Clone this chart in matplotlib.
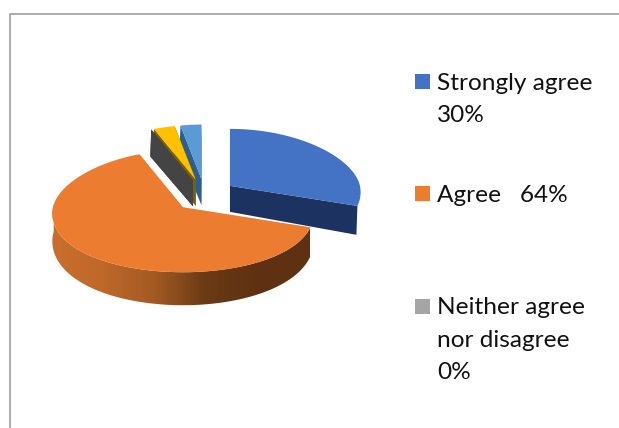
import numpy as np
import matplotlib
matplotlib.use('Agg')
import matplotlib.pyplot as plt
from matplotlib.colors import LinearSegmentedColormap
from matplotlib.patches import Polygon

categories = ['Strongly agree', 'Agree', 'Neither agree', 'Disagree', 'Strongly disagree']
values = [30, 64, 0, 3, 3]
legend_labels = ['Strongly agree\n30%', 'Agree   64%', 'Neither agree\nnor disagree\n0%']
top_colors = ['#4472c4', '#ec7c30', '#a5a5a5', '#ffc000', '#5b9bd5']
cut_colors = ['#1c3260', '#8a4a1a', '#444444', '#7f6000', '#2e5f8a']

plt.rcParams['font.family'] = ['Lato', 'DejaVu Sans']

# pie shape, in pixels
cx, cy = 204.5, 195.4
rx, ry_back, ry_front = 130, 57, 65
explode = 0.242


def project(center, ang, r=1.0):
    c = np.cos(ang)
    s = np.sin(ang)
    ry = np.where(c > 0, ry_back, ry_front)
    return center[0] + r * rx * s * (1 - 0.1 * c), center[1] - r * ry * c


def depth(ang):
    return 27 + 6 * np.maximum(0, -np.cos(ang))


fig = plt.figure(figsize=(6.19, 4.28), dpi=100)
ax = fig.add_axes([0, 0, 1, 1])

# frame only on the top and left
ax.plot([10, 10, 619], [428, 14, 14], color='#a6a6a6', lw=1.3)

rim = LinearSegmentedColormap.from_list('rim', ['#c96f2e', '#bf682a', '#a35a23', '#6b3a15', '#5f3112', '#5f3112'])

edges = np.deg2rad(np.concatenate([[0], np.cumsum(values)]) * 3.6)
slices = []
for i in range(len(values)):
    mid = (edges[i] + edges[i + 1]) / 2
    center = (cx + explode * rx * np.sin(mid), cy - explode * 67 * np.cos(mid))
    slices.append((i, edges[i], edges[i + 1], center))

# back slices first, blue last
z = 1
for i, a0, a1, center in [slices[1], slices[4], slices[3], slices[2], slices[0]]:
    r = 0.96 if values[i] < 10 else 1.0
    ang = np.linspace(a0, a1, 120)
    xs, ys = project(center, ang, r)
    ds = depth(ang)

    # outer rim, only the orange slice shows one
    front = np.cos(ang) < 0.05
    if i == 1:
        rim_x = np.r_[xs[front], xs[front][::-1]]
        rim_y = np.r_[ys[front], (ys + ds)[front][::-1]]
        grad = np.linspace(0, 1, 260).reshape(1, -1)
        im = ax.imshow(grad, cmap=rim, extent=(50, 310, 320, 200), aspect='auto', zorder=z)
        im.set_clip_path(Polygon(np.c_[rim_x, rim_y], transform=ax.transData))

    # cut faces
    if i != 1:
        for a in (a0, a1):
            if np.sin(a) < 0 or np.cos(a) < 0:
                ex, ey = project(center, a, r)
                ax.fill([center[0], ex, ex - 1, center[0]],
                        [center[1], ey, ey + depth(a), center[1] + 26],
                        color=cut_colors[i], lw=0, zorder=z)

    if values[i] > 0:
        ax.fill(np.r_[center[0], xs], np.r_[center[1], ys], color=top_colors[i], lw=0, zorder=z)
    z += 1

ax.set_xlim(0, 619)
ax.set_ylim(428, 0)
ax.axis('off')

# legend
legend_y = [81.5, 193.5, 306.5]
for label, col, y in zip(legend_labels, top_colors[:3], legend_y):
    ax.add_patch(plt.Rectangle((415, y - 7.5), 15, 15, color=col, lw=0))
    ax.text(437, y - 9, label, fontsize=17.6, color='#111111', va='top', ha='left', linespacing=1.65)

fig.savefig('out.png', dpi=100)
